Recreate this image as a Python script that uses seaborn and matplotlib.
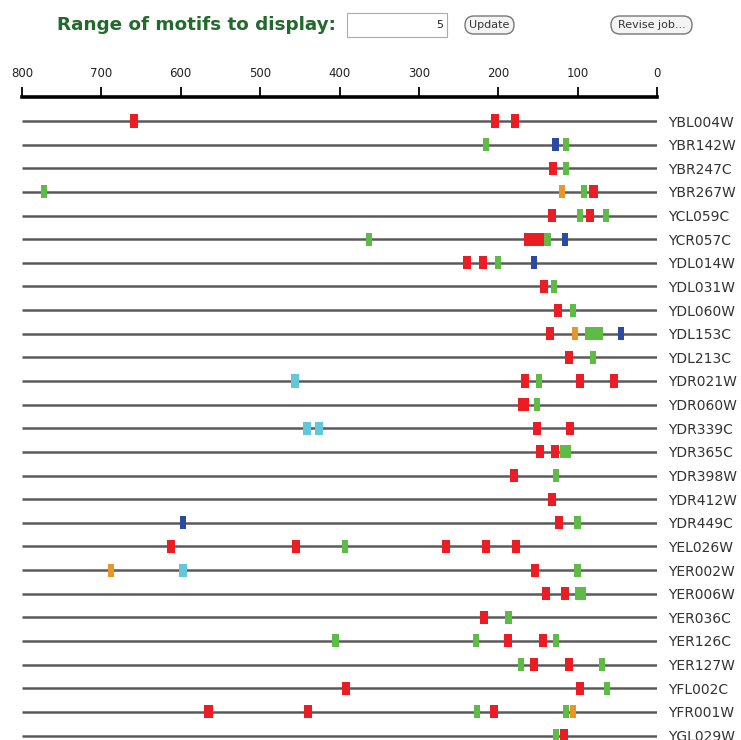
import numpy as np
import pandas as pd
import seaborn as sns
import matplotlib.pyplot as plt
from matplotlib.patches import Rectangle, FancyBboxPatch

# genes (rows, top to bottom)
genes = ['YBL004W', 'YBR142W', 'YBR247C', 'YBR267W', 'YCL059C', 'YCR057C',
         'YDL014W', 'YDL031W', 'YDL060W', 'YDL153C', 'YDL213C', 'YDR021W',
         'YDR060W', 'YDR339C', 'YDR365C', 'YDR398W', 'YDR412W', 'YDR449C',
         'YEL026W', 'YER002W', 'YER006W', 'YER036C', 'YER126C', 'YER127W',
         'YFL002C', 'YFR001W', 'YGL029W']

# motif hits: (gene, position upstream)
motif_red = [('YBL004W', 659), ('YBL004W', 204), ('YBL004W', 179),
             ('YBR247C', 131), ('YBR267W', 80), ('YCL059C', 132), ('YCL059C', 84),
             ('YCR057C', 163), ('YCR057C', 155), ('YCR057C', 148),
             ('YDL014W', 239), ('YDL014W', 219), ('YDL031W', 142), ('YDL060W', 125),
             ('YDL153C', 135), ('YDL213C', 111),
             ('YDR021W', 166), ('YDR021W', 97), ('YDR021W', 54),
             ('YDR060W', 170), ('YDR060W', 166), ('YDR339C', 151), ('YDR339C', 110),
             ('YDR365C', 147), ('YDR365C', 128), ('YDR398W', 180), ('YDR412W', 132),
             ('YDR449C', 123),
             ('YEL026W', 612), ('YEL026W', 455), ('YEL026W', 266), ('YEL026W', 215),
             ('YEL026W', 178), ('YER002W', 154), ('YER006W', 140), ('YER006W', 116),
             ('YER036C', 218), ('YER126C', 188), ('YER126C', 144),
             ('YER127W', 155), ('YER127W', 111), ('YFL002C', 392), ('YFL002C', 97),
             ('YFR001W', 565), ('YFR001W', 440), ('YFR001W', 205), ('YGL029W', 117)]
motif_green = [('YBR142W', 215), ('YBR142W', 115), ('YBR247C', 115),
               ('YBR267W', 772), ('YBR267W', 92), ('YCL059C', 97), ('YCL059C', 64),
               ('YCR057C', 363), ('YCR057C', 138), ('YDL014W', 200), ('YDL031W', 130),
               ('YDL060W', 106), ('YDL153C', 87), ('YDL153C', 79), ('YDL153C', 72),
               ('YDL213C', 81), ('YDR021W', 149), ('YDR060W', 151),
               ('YDR365C', 118), ('YDR365C', 112), ('YDR398W', 127), ('YDR449C', 100),
               ('YEL026W', 393), ('YER002W', 100), ('YER006W', 99), ('YER006W', 93),
               ('YER036C', 187), ('YER126C', 405), ('YER126C', 228), ('YER126C', 127),
               ('YER127W', 171), ('YER127W', 69), ('YFL002C', 63),
               ('YFR001W', 227), ('YFR001W', 115), ('YGL029W', 127)]
motif_blue = [('YBR142W', 128), ('YCR057C', 116), ('YDL014W', 155),
              ('YDL153C', 45), ('YDR449C', 597)]
motif_orange = [('YBR267W', 120), ('YDL153C', 103), ('YER002W', 688), ('YFR001W', 106)]
motif_cyan = [('YDR021W', 456), ('YDR339C', 441), ('YDR339C', 426), ('YER002W', 597)]

ticks = [800, 700, 600, 500, 400, 300, 200, 100, 0]

colors = {'red': '#ec1c24', 'green': '#5dbb46', 'blue': '#2b4ba3',
          'orange': '#e9952a', 'cyan': '#63c7dc'}

rows = []
for name, hits in [('red', motif_red), ('green', motif_green), ('blue', motif_blue),
                   ('orange', motif_orange), ('cyan', motif_cyan)]:
    for g, p in hits:
        rows.append({'gene': g, 'row': genes.index(g), 'pos': p, 'motif': name})
df = pd.DataFrame(rows)

# rectangular markers
wide = [(-0.31, -0.5), (0.31, -0.5), (0.31, 0.5), (-0.31, 0.5), (-0.31, -0.5)]
narrow = [(-0.24, -0.5), (0.24, -0.5), (0.24, 0.5), (-0.24, 0.5), (-0.24, -0.5)]
markers = {'red': wide, 'cyan': wide, 'green': narrow, 'blue': narrow, 'orange': narrow}

sns.set_style('white')
plt.rcParams['font.family'] = ['DejaVu Sans']

W, H = 741, 740
fig = plt.figure(figsize=(W / 100, H / 100), dpi=100)
ax = fig.add_axes([22 / W, 0, 635 / W, (H - 97) / H])

# gene lines
ax.hlines(range(len(genes)), 800, 0, color='#5a5a5a', lw=1.8, zorder=1)

sns.scatterplot(data=df, x='pos', y='row', hue='motif', style='motif',
                palette=colors, markers=markers, s=88, linewidth=0,
                legend=False, ax=ax, zorder=3)

ax.set_xlim(800, 0)
ax.set_ylim(26.19, -1.016)
ax.set_xlabel('')
ax.set_ylabel('')

for s in ['left', 'right', 'bottom']:
    ax.spines[s].set_visible(False)
ax.spines['top'].set_linewidth(2.6)
ax.spines['top'].set_color('black')

ax.xaxis.tick_top()
ax.set_xticks(ticks)
ax.set_xticklabels([str(t) for t in ticks])
ax.tick_params(axis='x', direction='out', length=7, width=1.3, color='black',
               pad=5, labelsize=8.5, labelcolor='#222222')

ax.yaxis.tick_right()
ax.set_yticks(range(len(genes)))
ax.set_yticklabels(genes)
ax.tick_params(axis='y', length=0, pad=8, labelsize=10, labelcolor='#333333')
ax.yaxis.set_tick_params(which='both', left=False)

# header controls
def px(x, y):
    return x / W, 1 - y / H

fig.text(*px(57, 25), 'Range of motifs to display:', color='#22692c',
         fontsize=13.2, fontweight='bold', va='center', ha='left')
fig.patches.append(Rectangle(px(347, 37), 100 / W, 24 / H, transform=fig.transFigure,
                             facecolor='white', edgecolor='#aaaaaa', lw=0.8))
fig.text(*px(443, 25), '5', fontsize=8, ha='right', va='center', color='#222222')
for x0, x1, label in [(457, 522, 'Update'), (603, 700, 'Revise job...')]:
    fig.patches.append(FancyBboxPatch(px(x0 + 8, 34), (x1 - x0 - 16) / W, 18 / H,
                                      boxstyle='round,pad=0,rounding_size=0.012',
                                      transform=fig.transFigure, facecolor='#f4f4f4',
                                      edgecolor='#777777', lw=1.0,
                                      mutation_aspect=W / H))
    fig.text(*px((x0 + x1) / 2, 25), label, fontsize=8, ha='center', va='center',
             color='#333333')

fig.savefig('out.png', dpi=100)
